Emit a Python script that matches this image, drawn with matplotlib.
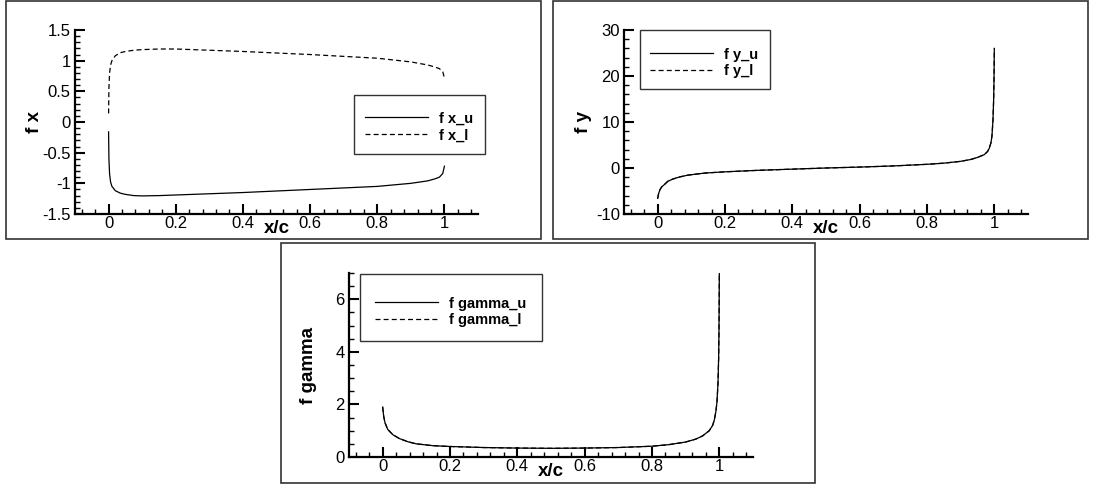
import matplotlib
matplotlib.use('Agg')
import matplotlib.pyplot as plt
from matplotlib.patches import Rectangle
from matplotlib.ticker import MultipleLocator, FormatStrFormatter

plt.rcParams['font.family'] = ['Liberation Sans', 'DejaVu Sans']
plt.rcParams['axes.unicode_minus'] = False

# values
x_fx = [0, 0.001, 0.003, 0.006, 0.01, 0.02, 0.035, 0.05, 0.075, 0.1, 0.15, 0.2, 0.3,
        0.4, 0.5, 0.6, 0.7, 0.8, 0.9, 0.95, 0.97, 0.985, 0.995, 1.0]
fx_u = [-0.16, -0.6, -0.85, -0.98, -1.05, -1.12, -1.16, -1.18, -1.2, -1.205, -1.2, -1.19, -1.17,
        -1.15, -1.125, -1.1, -1.075, -1.05, -1.0, -0.96, -0.93, -0.9, -0.84, -0.72]
fx_l = [0.14, 0.55, 0.8, 0.93, 1.0, 1.08, 1.13, 1.15, 1.17, 1.18, 1.19, 1.19, 1.17,
        1.15, 1.125, 1.1, 1.07, 1.04, 0.98, 0.93, 0.9, 0.87, 0.82, 0.72]

x_fy = [0, 0.003, 0.007, 0.012, 0.02, 0.03, 0.045, 0.065, 0.09, 0.14, 0.2, 0.3, 0.4, 0.5,
        0.6, 0.7, 0.8, 0.85, 0.9, 0.93, 0.95, 0.97, 0.98, 0.985, 0.99, 0.993, 0.996, 0.998,
        0.999, 1.0]
fy_u = [-6.6, -5.5, -4.7, -4.1, -3.6, -2.9, -2.4, -1.95, -1.55, -1.1, -0.83, -0.5, -0.25, 0.0,
        0.2, 0.45, 0.8, 1.05, 1.45, 1.85, 2.3, 2.9, 3.6, 4.3, 5.5, 7.0, 10.5, 15,
        19, 26]
fy_l = list(fy_u)

x_fg = [0, 0.003, 0.007, 0.015, 0.03, 0.05, 0.075, 0.1, 0.15, 0.2, 0.3, 0.4, 0.5, 0.6, 0.7,
        0.8, 0.85, 0.9, 0.93, 0.95, 0.97, 0.98, 0.985, 0.99, 0.993, 0.996, 0.998, 0.999, 1.0]
fg_u = [1.9, 1.55, 1.3, 1.05, 0.85, 0.7, 0.58, 0.5, 0.43, 0.4, 0.36, 0.34, 0.33, 0.34, 0.36,
        0.41, 0.47, 0.57, 0.68, 0.8, 1.0, 1.2, 1.4, 1.75, 2.1, 2.8, 3.8, 4.8, 7.0]
fg_l = list(fg_u)

W, H = 1093, 488
fig = plt.figure(figsize=(W / 100, H / 100), dpi=100)


def px(x0, y0, x1, y1):
    # pixel box (top-left origin) -> figure fraction rect
    return [x0 / W, 1 - y1 / H, (x1 - x0) / W, (y1 - y0) / H]


def style_axes(ax, ylim, ymaj, ymin, ylabel):
    ax.set_xlim(-0.1, 1.1)
    ax.set_ylim(*ylim)
    for s in ['top', 'right']:
        ax.spines[s].set_visible(False)
    for s in ['left', 'bottom']:
        ax.spines[s].set_linewidth(1.6)
    ax.xaxis.set_major_locator(MultipleLocator(0.2))
    ax.xaxis.set_minor_locator(MultipleLocator(0.04))
    ax.yaxis.set_major_locator(MultipleLocator(ymaj))
    ax.yaxis.set_minor_locator(MultipleLocator(ymin))
    ax.yaxis.set_major_formatter(FormatStrFormatter('%g'))
    ax.set_xticks([0, 0.2, 0.4, 0.6, 0.8, 1.0])
    ax.set_xticklabels(['0', '0.2', '0.4', '0.6', '0.8', '1'])
    ax.tick_params(which='major', direction='in', length=7, width=1.5, labelsize=12, pad=1.5)
    ax.tick_params(which='minor', direction='in', length=3.5, width=1)
    ax.tick_params(axis='y', pad=3)
    ax.set_xlabel('x/c', fontsize=13.5, fontweight='bold')
    ax.xaxis.set_label_coords(0.5, -0.03)
    ax.set_ylabel(ylabel, fontsize=13.5, fontweight='bold')
    ax.yaxis.set_label_coords(-0.08, 0.5)
    ax.patch.set_alpha(0)


def add_legend(ax, box, xstart, ymid):
    x0, y0, x1, y1 = box
    fig.patches.append(Rectangle((x0 / W, 1 - y1 / H), (x1 - x0) / W, (y1 - y0) / H,
                                 transform=fig.transFigure, fill=False,
                                 edgecolor='#333333', linewidth=1.0))
    ax.legend(loc='center left', bbox_to_anchor=(xstart / W, 1 - ymid / H),
              bbox_transform=fig.transFigure, frameon=False, borderpad=0, borderaxespad=0,
              handlelength=4.3, handletextpad=0.8, labelspacing=0.2,
              prop={'size': 10.5, 'weight': 'bold'})


# panel frames
for fr in [(6, 0.5, 541, 239), (553, 0.5, 1088, 239), (281, 243, 815, 483)]:
    fig.patches.append(Rectangle((fr[0] / W, 1 - fr[3] / H), (fr[2] - fr[0]) / W,
                                 (fr[3] - fr[1]) / H, transform=fig.transFigure,
                                 fill=False, edgecolor='#333333', linewidth=1.2))

dash = (0, (4, 2.5))

ax1 = fig.add_axes(px(75, 30, 478, 214))
ax1.plot(x_fx, fx_u, color='black', lw=0.9, label='f x_u')
ax1.plot(x_fx, fx_l, color='black', lw=0.9, linestyle=dash, label='f x_l')
style_axes(ax1, (-1.5, 1.5), 0.5, 0.1, 'f x')
add_legend(ax1, (354, 95, 485, 154), 365, 127)

ax2 = fig.add_axes(px(624, 30, 1028, 214))
ax2.plot(x_fy, fy_u, color='black', lw=0.9, label='f y_u')
ax2.plot(x_fy, fy_l, color='black', lw=0.9, linestyle=dash, label='f y_l')
style_axes(ax2, (-10, 30), 10, 2, 'f y')
add_legend(ax2, (640, 30, 770, 89), 650, 63)

ax3 = fig.add_axes(px(349, 273, 753, 457))
ax3.plot(x_fg, fg_u, color='black', lw=0.9, label='f gamma_u')
ax3.plot(x_fg, fg_l, color='black', lw=0.9, linestyle=dash, label='f gamma_l')
style_axes(ax3, (0, 7), 2, 0.5, 'f gamma')
add_legend(ax3, (360, 274, 542, 341), 375, 312)

fig.savefig('out.png', dpi=100)
